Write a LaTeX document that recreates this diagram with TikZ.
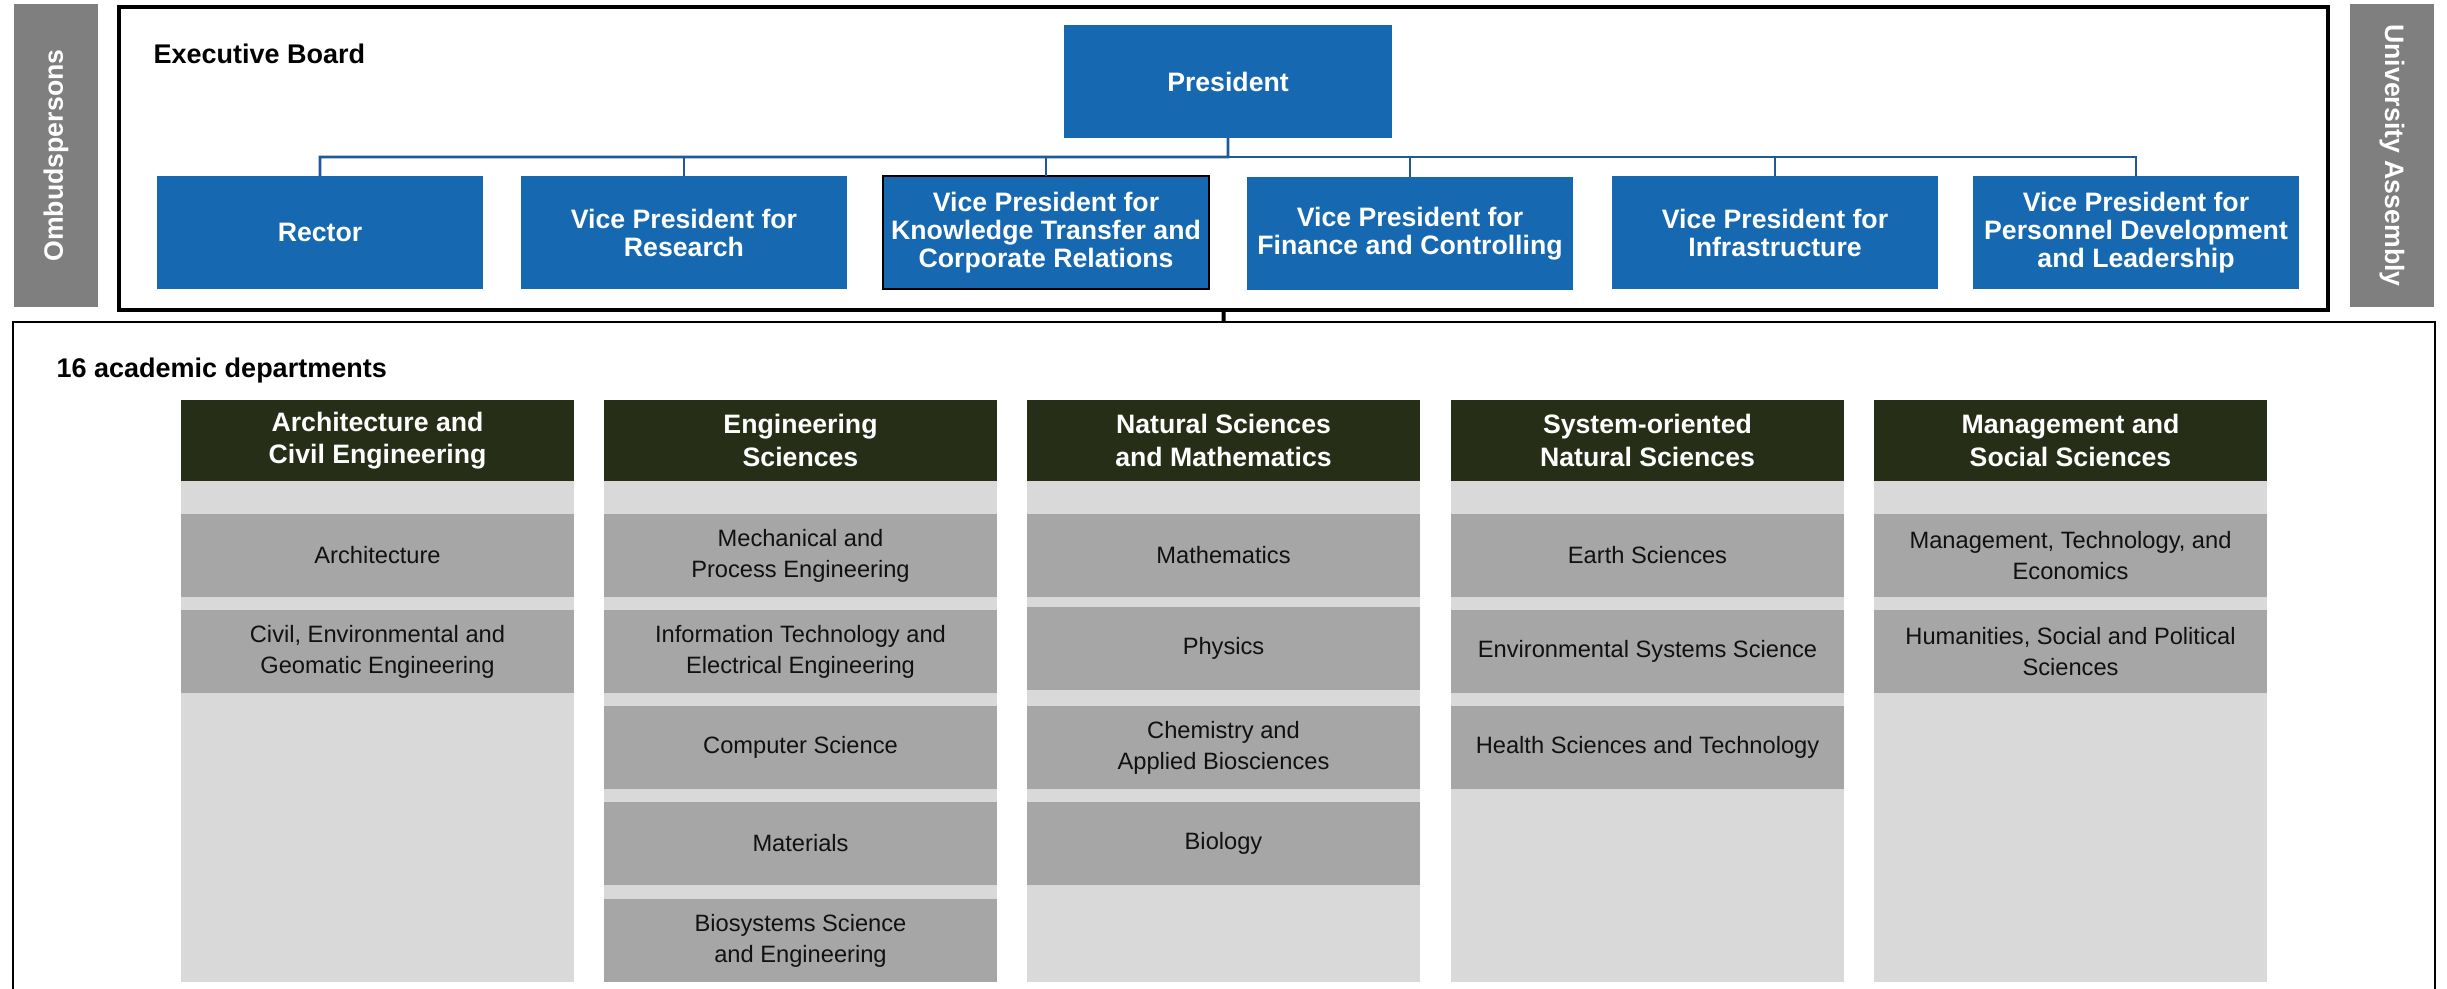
\documentclass[tikz,border=0pt]{standalone}
\usepackage{fontspec}
\setmainfont{Liberation Sans}
\definecolor{vpblue}{HTML}{1669B0}
\definecolor{connblue}{HTML}{1F5A97}
\definecolor{sidegray}{HTML}{7F7F7F}
\definecolor{headgreen}{HTML}{262E18}
\definecolor{bggray}{HTML}{D9D9D9}
\definecolor{itemgray}{HTML}{A6A6A6}
\definecolor{itemtext}{HTML}{111111}
\begin{document}
\begin{tikzpicture}[x=0.3pt,y=-0.3pt,
  bluebox/.style={fill=vpblue, text=white, font=\fontsize{8}{8.4}\selectfont\bfseries,
    align=center, inner sep=0pt, outer sep=0pt, minimum width=97.8pt, minimum height=33.9pt, anchor=north west},
  sidebar/.style={fill=sidegray, text=white, font=\fontsize{8}{8.4}\selectfont\bfseries,
    inner sep=0pt, minimum width=90.9pt, minimum height=25.2pt},
  conn/.style={draw=connblue, line width=0.8pt},
  title/.style={font=\fontsize{8.1}{9}\selectfont\bfseries, anchor=base west, inner sep=0pt},
  headbox/.style={fill=headgreen, text=white, font=\fontsize{8}{9.8}\selectfont\bfseries,
    align=center, inner sep=0pt, outer sep=0pt, minimum width=117.9pt, minimum height=24.3pt, anchor=north west},
  colbg/.style={fill=bggray, inner sep=0pt, outer sep=0pt, minimum width=117.9pt, minimum height=150.3pt, anchor=north west},
  itembox/.style={fill=itemgray, text=itemtext, font=\fontsize{7.1}{9.3}\selectfont,
    align=center, inner sep=0pt, outer sep=0pt, minimum width=117.9pt, minimum height=24.9pt, anchor=north west}
]
\useasboundingbox (0,0) rectangle (2447,988);

% side bars
\node[sidebar, rotate=90] (omb) at (56,155.5) {Ombudspersons};
\node[sidebar, rotate=-90] (ua) at (2392,155.5) {University Assembly};

% executive board frame
\node[draw=black, line width=1pt, inner sep=0pt, outer sep=0pt, minimum width=662.7pt, minimum height=90.9pt, anchor=north west] (exec) at (119,7) {};
\node[title] (extitle) at (153,63) {Executive Board};

% president and vice presidents
\node[bluebox, minimum width=98.4pt] (pres) at (1064,25) {President};
\node[bluebox] (rector) at (157,176) {Rector};
\node[bluebox] (vpr) at (521,176) {Vice President for\\Research};
\node[bluebox, draw=black, line width=0.7pt] (vpkt) at (883,176) {Vice President for\\Knowledge Transfer and\\Corporate Relations};
\node[bluebox] (vpfc) at (1247,177) {Vice President for\\Finance and Controlling};
\node[bluebox] (vpi) at (1612,176) {Vice President for\\Infrastructure};
\node[bluebox] (vpp) at (1973,176) {Vice President for\\Personnel Development\\and Leadership};

\coordinate (bus) at (1228,157);
\draw[conn] (pres.south) -- (bus) -| (rector.north);
\draw[conn] (bus) -| (vpr.north);
\draw[conn] (bus) -| (vpkt.north);
\draw[conn] (bus) -| (vpfc.north);
\draw[conn] (bus) -| (vpi.north);
\draw[conn] (bus) -| (vpp.north);

% departments frame (open at bottom)
\coordinate (depttop) at (1223.5,322);
\draw[line width=0.6pt] (13,1000) -- (13,322) -- (2435,322) -- (2435,1000);
\draw[line width=1.2pt] (exec.south) -- (depttop);
\node[title] (depttitle) at (56,377) {16 academic departments};

% column 1
\node[colbg] (bg1) at (181,481) {};
\node[headbox] (h1) at (181,400) {Architecture and\\Civil Engineering};
\node[itembox] (c1a) at (181,514) {Architecture};
\node[itembox] (c1b) at (181,610) {Civil, Environmental and\\Geomatic Engineering};

% column 2
\node[colbg] (bg2) at (604,481) {};
\node[headbox] (h2) at (604,400) {Engineering\\Sciences};
\node[itembox] (c2a) at (604,514) {Mechanical and\\Process Engineering};
\node[itembox] (c2b) at (604,610) {Information Technology and\\Electrical Engineering};
\node[itembox] (c2c) at (604,706) {Computer Science};
\node[itembox] (c2d) at (604,802) {Materials};
\node[itembox] (c2e) at (604,899) {Biosystems Science\\and Engineering};

% column 3
\node[colbg] (bg3) at (1027,481) {};
\node[headbox] (h3) at (1027,400) {Natural Sciences\\and Mathematics};
\node[itembox] (c3a) at (1027,514) {Mathematics};
\node[itembox] (c3b) at (1027,607) {Physics};
\node[itembox] (c3c) at (1027,706) {Chemistry and\\Applied Biosciences};
\node[itembox] (c3d) at (1027,802) {Biology};

% column 4
\node[colbg] (bg4) at (1451,481) {};
\node[headbox] (h4) at (1451,400) {System-oriented\\Natural Sciences};
\node[itembox] (c4a) at (1451,514) {Earth Sciences};
\node[itembox] (c4b) at (1451,610) {Environmental Systems Science};
\node[itembox] (c4c) at (1451,706) {Health Sciences and Technology};

% column 5
\node[colbg] (bg5) at (1874,481) {};
\node[headbox] (h5) at (1874,400) {Management and\\Social Sciences};
\node[itembox] (c5a) at (1874,514) {Management, Technology, and\\Economics};
\node[itembox] (c5b) at (1874,610) {Humanities, Social and Political\\Sciences};
\end{tikzpicture}
\end{document}
